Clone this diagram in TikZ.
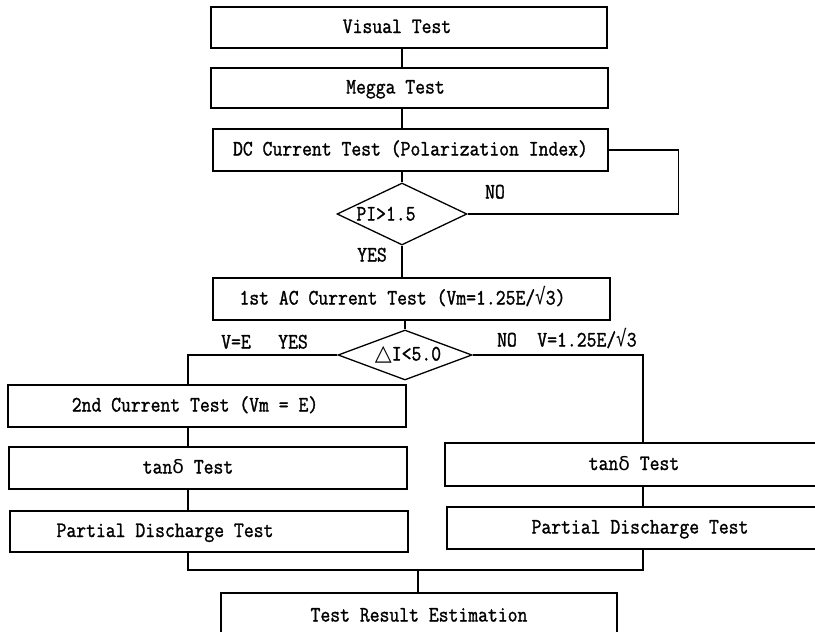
\documentclass[tikz,border=0pt]{standalone}
\usepackage{fontspec}
\usetikzlibrary{shapes.geometric,calc}
\newfontfamily\tw[FakeStretch=0.87,FakeBold=1.3]{Latin Modern Mono}
\newfontfamily\djv[FakeStretch=0.8]{DejaVu Sans Mono}
\newfontfamily\djs{DejaVu Sans}
\newcommand{\shl}[2]{#2\hspace*{#1pt}}
\newcommand{\dlt}{{\djs\fontsize{19}{20}\selectfont δ}}
\newcommand{\srt}{{\djv √}}
\begin{document}
\begin{tikzpicture}[x=1pt,y=-1pt,
  txt/.style={font=\tw\fontsize{22}{24}\selectfont, text height=14pt, text depth=3pt},
  box/.style={draw, line width=1.3pt, inner sep=0pt, txt},
  dia/.style={draw, diamond, line width=1.3pt, inner sep=0pt},
  lbl/.style={inner sep=0pt, txt},
  ln/.style={line width=1.3pt}]
\useasboundingbox (0,0) rectangle (815,632);
\clip (0,0) rectangle (815,632);
% boxes
\node[box, minimum width=396, minimum height=41] (visual) at (409,27.5) {\shl{24}{Visual Test}};
\node[box, minimum width=397, minimum height=40] (megga) at (409.5,88) {\shl{28}{Megga Test}};
\node[box, minimum width=395, minimum height=42] (dc) at (410.5,150) {DC Current Test (Polarization Index)};
\node[box, minimum width=397, minimum height=42] (ac1) at (411.5,299) {\shl{18}{1st AC Current Test (Vm=1.25E/\srt3)}};
\node[box, minimum width=398, minimum height=42] (ac2) at (207,406) {\shl{24}{2nd Current Test (Vm = E)}};
\node[box, minimum width=398, minimum height=42] (tanL) at (208,468) {\shl{40}{tan\dlt{} Test}};
\node[box, minimum width=398, minimum height=41] (pdL) at (209,531.5) {\shl{88}{Partial Discharge Test}};
\node[box, minimum width=420, minimum height=43] (tanR) at (655,464.5) {\shl{42}{tan\dlt{} Test}};
\node[box, minimum width=420, minimum height=42] (pdR) at (657,528) {\shl{34}{Partial Discharge Test}};
\node[box, minimum width=396, minimum height=46] (result) at (419,616) {Test Result Estimation};
% diamonds
\node[dia, minimum width=130, minimum height=62] (d1) at (402,214) {};
\node[dia, minimum width=134, minimum height=50] (d2) at (405,355) {};
% helper coordinates
\coordinate (colL) at (188,0);
\coordinate (colR) at (643,0);
\coordinate (jn) at (418,570);
% connectors
\draw[ln] (visual.south -| d1.north) -- (megga.north -| d1.north);
\draw[ln] (megga.south -| d1.north) -- (dc.north -| d1.north);
\draw[ln] (dc.south -| d1.north) -- (d1.north);
\draw[ln] (dc.east) -- ++(70,0) |- (d1.east);
\draw[ln] (d1.south) -- (d1.south |- ac1.north);
\draw[ln] (ac1.south -| d2.north) -- (d2.north);
\draw[ln] (d2.west) -| (ac2.north -| colL);
\draw[ln] (ac2.south -| colL) -- (tanL.north -| colL);
\draw[ln] (tanL.south -| colL) -- (pdL.north -| colL);
\draw[ln] (d2.east) -| (tanR.north -| colR);
\draw[ln] (tanR.south -| colR) -- (pdR.north -| colR);
\draw[ln] (pdL.south -| colL) |- (jn) -| (pdR.south -| colR);
\draw[ln] (jn) -- (jn |- result.north);
% labels
\node[lbl] (no1) at (495,193) {NO};
\node[lbl] (yes1) at (372,256) {YES};
\node[lbl] (pi) at (386,215) {PI>1.5};
\node[lbl] (di) at (408,355) {{\djs\fontsize{22}{22}\selectfont △}I<5.0};
\node[lbl] (ve) at (236,343) {V=E};
\node[lbl] (yes2) at (293,343) {YES};
\node[lbl] (no2) at (507,341) {NO};
\node[lbl] (vr) at (587,341) {V=1.25E/\srt3};
\end{tikzpicture}
\end{document}
